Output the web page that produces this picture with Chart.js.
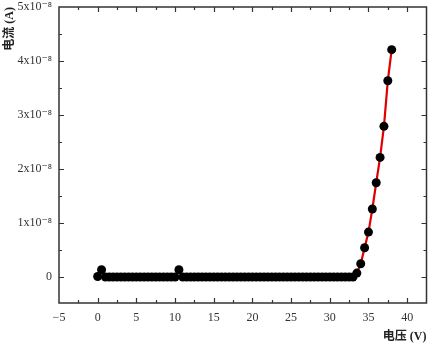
<!DOCTYPE html>
<html>
<head>
<meta charset="utf-8">
<script src="https://cdn.jsdelivr.net/npm/chart.js@4.4.1/dist/chart.umd.min.js"></script>
<style>
  html, body { margin: 0; padding: 0; background: #fff; }
  #wrap { width: 431px; height: 344px; position: relative; }
</style>
</head>
<body>
<div id="wrap"><canvas id="ivChart"></canvas></div>
<script>
// voltage (V) and measured current (A)
const voltage = [
  0, 0.5, 1, 1.5, 2, 2.5, 3, 3.5, 4, 4.5, 5, 5.5, 6, 6.5, 7, 7.5, 8, 8.5, 9, 9.5,
  10, 10.5, 11, 11.5, 12, 12.5, 13, 13.5, 14, 14.5, 15, 15.5, 16, 16.5, 17, 17.5, 18, 18.5, 19, 19.5,
  20, 20.5, 21, 21.5, 22, 22.5, 23, 23.5, 24, 24.5, 25, 25.5, 26, 26.5, 27, 27.5, 28, 28.5, 29, 29.5,
  30, 30.5, 31, 31.5, 32, 32.5, 33, 33.5, 34, 34.5, 35, 35.5, 36, 36.5, 37, 37.5, 38
];
const current = [
  1e-10, 1.35e-9, 0, 0, 0, 0, 0, 0, 0, 0, 0, 0, 0, 0, 0, 0, 0, 0, 0, 0,
  0, 1.35e-9, 0, 0, 0, 0, 0, 0, 0, 0, 0, 0, 0, 0, 0, 0, 0, 0, 0, 0,
  0, 0, 0, 0, 0, 0, 0, 0, 0, 0, 0, 0, 0, 0, 0, 0, 0, 0, 0, 0,
  0, 0, 0, 0, 0, 0, 0, 7.4e-10, 2.46e-9, 5.43e-9, 8.33e-9, 1.26e-8, 1.746e-8, 2.215e-8, 2.79e-8, 3.635e-8, 4.21e-8
];
// red segment starts at this voltage
const fitStart = 33;

const xTicks = [-5, 0, 5, 10, 15, 20, 25, 30, 35, 40];
const xTickLabels = ['\u22125', '0', '5', '10', '15', '20', '25', '30', '35', '40'];
const yTicks = [0, 1e-8, 2e-8, 3e-8, 4e-8, 5e-8];
const yTickLabels = ['0', '1x10\u207B\u2078', '2x10\u207B\u2078', '3x10\u207B\u2078', '4x10\u207B\u2078', '5x10\u207B\u2078'];
const xMinorStep = 2.5;
const yMinorStep = 0.5e-8;

const points = voltage.map((v, i) => ({ x: v, y: current[i] }));
const fitPoints = points.filter(p => p.x >= fitStart);

const serif = '"Liberation Serif", "DejaVu Serif", serif';
const frameColor = '#333';

// inside ticks on all four sides, plus the box frame
const frameTicks = {
  id: 'frameTicks',
  afterDraw(chart) {
    const { ctx, chartArea: a, scales } = chart;
    const sx = scales.x, sy = scales.y;
    ctx.save();
    ctx.strokeStyle = frameColor;
    ctx.lineWidth = 1.5;
    ctx.strokeRect(a.left, a.top, a.right - a.left, a.bottom - a.top);
    ctx.lineWidth = 1.2;
    ctx.beginPath();
    for (let v = sx.min; v <= sx.max + 1e-9; v += xMinorStep) {
      const px = Math.round(sx.getPixelForValue(v)) + 0.5;
      if (px <= a.left + 1 || px >= a.right - 1) continue;
      const major = Math.abs(v / 5 - Math.round(v / 5)) < 1e-6;
      const len = major ? 5 : 3;
      ctx.moveTo(px, a.bottom); ctx.lineTo(px, a.bottom - len);
      ctx.moveTo(px, a.top); ctx.lineTo(px, a.top + len);
    }
    for (let k = 0; k * yMinorStep <= sy.max + 1e-12; k++) {
      const v = k * yMinorStep;
      const py = Math.round(sy.getPixelForValue(v)) + 0.5;
      if (py <= a.top + 1 || py >= a.bottom - 1) continue;
      const len = k % 2 === 0 ? 5 : 3;
      ctx.moveTo(a.left, py); ctx.lineTo(a.left + len, py);
      ctx.moveTo(a.right, py); ctx.lineTo(a.right - len, py);
    }
    ctx.stroke();
    ctx.restore();
  }
};

new Chart(document.getElementById('ivChart'), {
  type: 'scatter',
  data: {
    datasets: [
      {
        label: 'data',
        data: points,
        showLine: false,
        pointRadius: 4.5,
        pointHoverRadius: 4.5,
        pointBackgroundColor: '#000',
        pointBorderColor: '#000',
        pointBorderWidth: 0,
        order: 0
      },
      {
        label: 'fit',
        data: fitPoints,
        showLine: true,
        borderColor: '#e00000',
        borderWidth: 2.2,
        pointRadius: 0,
        fill: false,
        order: 1
      }
    ]
  },
  options: {
    responsive: true,
    maintainAspectRatio: false,
    animation: false,
    layout: { padding: { top: 7, right: 4, bottom: 0, left: 0 } },
    plugins: {
      legend: { display: false },
      tooltip: { enabled: false }
    },
    scales: {
      x: {
        type: 'linear',
        min: -5,
        max: 42.5,
        afterBuildTicks: (s) => { s.ticks = xTicks.map(v => ({ value: v })); },
        afterFit: (s) => { s.height = 41; s.paddingLeft = 0; s.paddingRight = 0; },
        grid: { display: false, drawTicks: false, tickLength: 0 },
        border: { display: false },
        ticks: {
          padding: 8,
          maxRotation: 0,
          color: '#333',
          font: { family: serif, size: 12 },
          callback: (value, index) => xTickLabels[index]
        },
        title: {
          display: true,
          text: '电压 (V)',
          align: 'end',
          color: '#222',
          padding: { top: 0, bottom: 0 },
          font: { family: serif + ', "Noto Sans CJK SC"', size: 12, weight: 'bold' }
        }
      },
      y: {
        type: 'linear',
        min: -0.48e-8,
        max: 5e-8,
        afterBuildTicks: (s) => { s.ticks = yTicks.map(v => ({ value: v })); },
        afterFit: (s) => { s.width = 59; s.paddingTop = 0; s.paddingBottom = 0; },
        grid: { display: false, drawTicks: false, tickLength: 0 },
        border: { display: false },
        ticks: {
          padding: 7,
          color: '#333',
          font: { family: serif, size: 12 },
          callback: (value, index) => yTickLabels[index]
        },
        title: {
          display: true,
          text: '电流 (A)',
          align: 'end',
          color: '#222',
          padding: { top: 3, bottom: 0 },
          font: { family: serif + ', "Noto Sans CJK SC"', size: 12, weight: 'bold' }
        }
      }
    }
  },
  plugins: [frameTicks]
});
</script>
</body>
</html>
